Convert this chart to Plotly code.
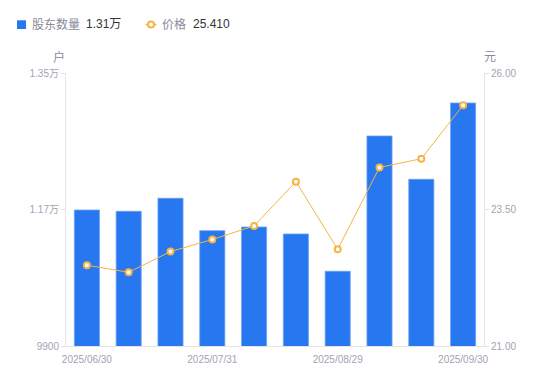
import plotly.graph_objects as go

dates = ["2025/06/30", "2025/07/10", "2025/07/18", "2025/07/31", "2025/08/08",
         "2025/08/20", "2025/08/29", "2025/09/10", "2025/09/19", "2025/09/30"]
holders = [11693, 11676, 11848, 11421, 11469, 11377, 10885, 12669, 12098, 13104]
prices = [22.48, 22.35, 22.73, 22.95, 23.20, 24.01, 22.77, 24.27, 24.43, 25.41]

x_tick_labels = ["2025/06/30", "2025/07/31", "2025/08/29", "2025/09/30"]

left_ticks = [9900, 11700, 13500]
left_tick_text = ["9900", "1.17万", "1.35万"]
right_ticks = [21.0, 23.5, 26.0]

FONT = "Liberation Sans, Noto Sans CJK SC, sans-serif"
GRAY = "#a3a3b3"
NAME_GRAY = "#8a8a9a"
DARK = "#333333"
BLUE = "#2677f0"
ORANGE = "#f5b444"

W, H = 550, 381
L, R, T, B = 66, 66, 73, 35
PW, PH = W - L - R, H - T - B


def px(x):
    return (x - L) / PW


def py(y):
    return (H - B - y) / PH


idx = list(range(len(dates)))
x_tick_pos = [dates.index(d) for d in x_tick_labels]
last_h = f"{holders[-1] / 10000:.2f}万"
last_p = f"{prices[-1]:.3f}"

fig = go.Figure()
fig.add_trace(go.Bar(
    x=idx, y=holders, width=0.6, customdata=dates,
    marker=dict(color=BLUE, line=dict(color="#6aa0f6", width=0.8)),
    name="股东数量",
    hovertemplate="%{customdata}: %{y}<extra></extra>",
))
fig.add_trace(go.Scatter(
    x=idx, y=prices, yaxis="y2", mode="lines+markers", customdata=dates,
    line=dict(color=ORANGE, width=1),
    marker=dict(symbol="circle", size=6, color="white", line=dict(color=ORANGE, width=2)),
    name="价格",
    hovertemplate="%{customdata}: %{y}<extra></extra>",
))

legend_y = 24.5


def txt(s, x, y, color, size=12, anchor="left"):
    return dict(text=s, xref="paper", yref="paper", x=px(x), y=py(y), showarrow=False,
                xanchor=anchor, yanchor="middle", font=dict(size=size, color=color))


annotations = [
    txt("股东数量", 30, legend_y, NAME_GRAY),
    txt(last_h, 84, legend_y, DARK),
    txt("价格", 160, legend_y, NAME_GRAY),
    txt(last_p, 191, legend_y, DARK),
    txt("户", 59, 57, NAME_GRAY, anchor="center"),
    txt("元", 490, 57, NAME_GRAY, anchor="center"),
]

shapes = [
    dict(type="rect", xref="paper", yref="paper", x0=px(17), x1=px(26),
         y0=py(20.3), y1=py(29.0), fillcolor=BLUE, line=dict(width=0)),
    dict(type="line", xref="paper", yref="paper", x0=px(145.5), x1=px(156.5),
         y0=py(legend_y), y1=py(legend_y), line=dict(color=ORANGE, width=1.5)),
    dict(type="circle", xref="paper", yref="paper", x0=px(148), x1=px(154),
         y0=py(legend_y - 3), y1=py(legend_y + 3), fillcolor="white",
         line=dict(color=ORANGE, width=2)),
]

fig.update_layout(
    width=W, height=H,
    margin=dict(l=L, r=R, t=T, b=B, autoexpand=False),
    paper_bgcolor="white", plot_bgcolor="white",
    font=dict(family=FONT, size=10, color=GRAY),
    showlegend=False,
    bargap=0.4,
    xaxis=dict(range=[-0.5, 9.5], tickvals=x_tick_pos, ticktext=x_tick_labels,
               showgrid=False, zeroline=False, showline=True, linecolor="#e3e3e8",
               linewidth=1, ticks="", ticklabelstandoff=4,
               tickfont=dict(size=10, color=GRAY)),
    yaxis=dict(range=[9900, 13500], tickvals=left_ticks, ticktext=left_tick_text,
               showgrid=False, zeroline=False, showline=True, linecolor="#e3e3e8",
               ticks="outside", ticklen=4, tickcolor="#e3e3e8",
               tickfont=dict(size=10, color=GRAY)),
    yaxis2=dict(range=[21, 26], tickvals=right_ticks,
                ticktext=[f"{v:.2f}" for v in right_ticks],
                overlaying="y", side="right", showgrid=False, zeroline=False,
                showline=True, linecolor="#e3e3e8", ticks="outside", ticklen=4,
                tickcolor="#e3e3e8", tickfont=dict(size=10, color=GRAY)),
    annotations=annotations,
    shapes=shapes,
)

fig.write_html("out.html", config={"displayModeBar": False},
               post_script="document.body.style.margin='0';")
